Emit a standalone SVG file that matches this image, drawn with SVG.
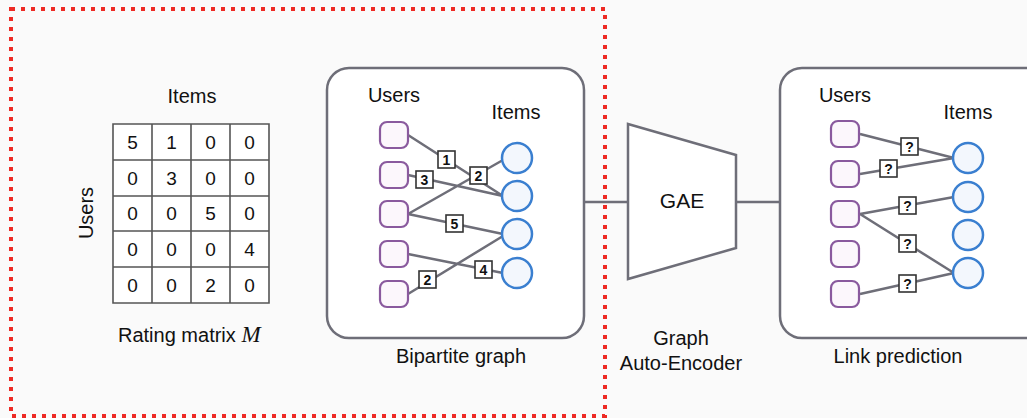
<svg xmlns="http://www.w3.org/2000/svg" width="1027" height="418" viewBox="0 0 1027 418">
<style>
text{font-family:"Liberation Sans",Arial,sans-serif;fill:#111}
.t20{font-size:20px}
.mx{font-size:19px;text-anchor:middle}
.box{fill:#fff;stroke:#6e6e78;stroke-width:2.5}
.usr{fill:#fcf7fc;stroke:#8a5a9e;stroke-width:2.2}
.itm{fill:#f3f7fd;stroke:#3a7fd0;stroke-width:2.5}
.edge{stroke:#6e6e78;stroke-width:2.5;fill:none}
.lb{fill:#fff;stroke:#333;stroke-width:1.6}
.lt{font-size:14px;font-weight:bold;text-anchor:middle}
.grid{stroke:#555;stroke-width:1.6;fill:none}
</style>
<defs>
<rect id="u" x="-14" y="-13" width="28" height="26" rx="7"/>
</defs>
<rect width="1027" height="418" fill="#fafafa"/>

<g id="matrix">
<text class="t20" x="192" y="103" text-anchor="middle">Items</text>
<text class="t20" transform="translate(93,213) rotate(-90)" text-anchor="middle">Users</text>
<rect x="113" y="124" width="156" height="179" fill="#fff"/>
<path class="grid" d="M113 124H269V303H113Z M152 124V303 M191 124V303 M230 124V303 M113 160H269 M113 196H269 M113 231H269 M113 267H269"/>
<g class="mx">
<text x="132.5" y="149">5</text><text x="171.5" y="149">1</text><text x="210.5" y="149">0</text><text x="249.5" y="149">0</text>
<text x="132.5" y="185">0</text><text x="171.5" y="185">3</text><text x="210.5" y="185">0</text><text x="249.5" y="185">0</text>
<text x="132.5" y="220">0</text><text x="171.5" y="220">0</text><text x="210.5" y="220">5</text><text x="249.5" y="220">0</text>
<text x="132.5" y="256">0</text><text x="171.5" y="256">0</text><text x="210.5" y="256">0</text><text x="249.5" y="256">4</text>
<text x="132.5" y="292">0</text><text x="171.5" y="292">0</text><text x="210.5" y="292">2</text><text x="249.5" y="292">0</text>
</g>
<text class="t20" x="118" y="342">Rating matrix <tspan font-family="'Liberation Serif',serif" font-style="italic" font-size="23">M</tspan></text>
</g>

<g id="bipartite-box">
<rect class="box" x="327" y="68" width="257" height="270" rx="22"/>
<text class="t20" x="394" y="102" text-anchor="middle">Users</text>
<text class="t20" x="516" y="119" text-anchor="middle">Items</text>
<text class="t20" x="461" y="363" text-anchor="middle">Bipartite graph</text>
</g>

<g id="gae">
<path class="box" d="M628 124L736 155V248L628 279Z"/>
<text x="682" y="208" font-size="21" text-anchor="middle">GAE</text>
<text class="t20" x="681" y="345" text-anchor="middle">Graph</text>
<text class="t20" x="681" y="370" text-anchor="middle">Auto-Encoder</text>
</g>

<g id="link-box">
<rect class="box" x="780" y="68" width="270" height="270" rx="22"/>
<text class="t20" x="845" y="102" text-anchor="middle">Users</text>
<text class="t20" x="968" y="119" text-anchor="middle">Items</text>
<text class="t20" x="898" y="363" text-anchor="middle">Link prediction</text>
</g>

<g id="connectors">
<path class="edge" d="M584 202H628 M736 202H780"/>
<path class="edge" d="M408 135L503 196 M408 175L503 196 M408 214L503 160 M408 214L503 234 M408 254L503 273 M408 294L503 236"/>
<path class="edge" d="M860 134L954 158 M860 174L954 158 M860 214L954 197 M860 214L954 273 M860 294L954 273"/>
</g>

<g id="edge-labels">
<rect class="lb" x="438" y="151" width="17" height="17"/><text class="lt" x="446.5" y="164.5">1</text>
<rect class="lb" x="416" y="171" width="17" height="17"/><text class="lt" x="424.5" y="184.5">3</text>
<rect class="lb" x="470" y="167" width="17" height="17"/><text class="lt" x="478.5" y="180.5">2</text>
<rect class="lb" x="446" y="215" width="17" height="17"/><text class="lt" x="454.5" y="228.5">5</text>
<rect class="lb" x="475" y="261" width="17" height="17"/><text class="lt" x="483.5" y="274.5">4</text>
<rect class="lb" x="419" y="271" width="17" height="17"/><text class="lt" x="427.5" y="284.5">2</text>
<rect class="lb" x="901" y="138" width="17" height="17"/><text class="lt" x="909.5" y="151.5">?</text>
<rect class="lb" x="880" y="160" width="17" height="17"/><text class="lt" x="888.5" y="173.5">?</text>
<rect class="lb" x="899" y="197" width="17" height="17"/><text class="lt" x="907.5" y="210.5">?</text>
<rect class="lb" x="899" y="235" width="17" height="17"/><text class="lt" x="907.5" y="248.5">?</text>
<rect class="lb" x="899" y="275" width="17" height="17"/><text class="lt" x="907.5" y="288.5">?</text>
</g>

<g id="bp-user-1"><use href="#u" class="usr" x="394" y="135"/></g>
<g id="bp-user-2"><use href="#u" class="usr" x="394" y="175"/></g>
<g id="bp-user-3"><use href="#u" class="usr" x="394" y="214"/></g>
<g id="bp-user-4"><use href="#u" class="usr" x="394" y="254"/></g>
<g id="bp-user-5"><use href="#u" class="usr" x="394" y="294"/></g>
<g id="bp-item-1"><circle class="itm" cx="517" cy="158" r="15"/></g>
<g id="bp-item-2"><circle class="itm" cx="517" cy="196" r="15"/></g>
<g id="bp-item-3"><circle class="itm" cx="517" cy="234" r="15"/></g>
<g id="bp-item-4"><circle class="itm" cx="517" cy="273" r="15"/></g>

<g id="lp-user-1"><use href="#u" class="usr" x="845" y="134"/></g>
<g id="lp-user-2"><use href="#u" class="usr" x="845" y="174"/></g>
<g id="lp-user-3"><use href="#u" class="usr" x="845" y="214"/></g>
<g id="lp-user-4"><use href="#u" class="usr" x="845" y="254"/></g>
<g id="lp-user-5"><use href="#u" class="usr" x="845" y="294"/></g>
<g id="lp-item-1"><circle class="itm" cx="968" cy="158" r="15"/></g>
<g id="lp-item-2"><circle class="itm" cx="968" cy="197" r="15"/></g>
<g id="lp-item-3"><circle class="itm" cx="968" cy="235" r="15"/></g>
<g id="lp-item-4"><circle class="itm" cx="968" cy="273" r="15"/></g>

<g id="selection-frame">
<rect x="11" y="9" width="594" height="407" fill="none" stroke="#ee2a24" stroke-width="4" stroke-dasharray="4 6"/>
</g>
</svg>
